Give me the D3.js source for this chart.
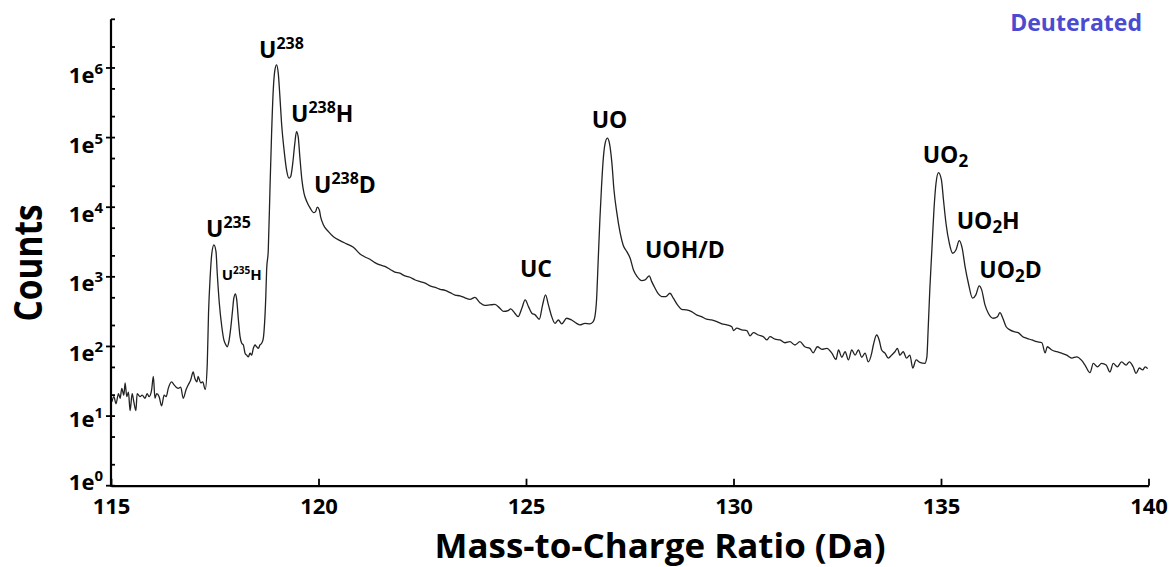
<!DOCTYPE html>
<html><head><meta charset="utf-8">
<script src="https://cdn.jsdelivr.net/npm/d3@7"></script>
<style>
body{margin:0;background:#fff}
svg{display:block}
text{font-family:"Open Sans",sans-serif;font-weight:700;fill:#000}
</style>
</head><body>
<svg id="chart" width="1170" height="567"></svg>
<script>
// ---- data ----
const massToCharge = [
115.02,115.07,115.12,115.18,115.22,115.26,115.31,115.34,115.38,115.42,115.46,115.51,115.55,115.60,115.63,115.70,115.75,115.82,115.87,115.92,115.98,
116.02,116.06,116.10,116.16,116.22,116.28,116.33,116.38,116.46,116.52,116.57,116.62,116.68,116.74,116.81,116.86,116.92,116.98,
117.02,117.07,117.10,117.16,117.21,117.27,117.32,117.35,117.39,117.43,117.48,117.53,117.56,117.61,117.67,117.72,117.77,117.80,117.84,117.88,117.93,117.96,
118.00,118.03,118.07,118.11,118.15,118.19,118.23,118.27,118.31,118.35,118.39,118.43,118.47,118.51,118.55,118.59,118.63,118.67,118.69,118.73,118.75,
118.79,118.83,118.87,118.91,118.95,118.99,119.03,119.07,119.11,119.17,119.23,119.29,119.33,119.38,119.43,119.47,119.51,119.55,119.60,119.65,119.72,119.80,119.88,119.93,119.97,
120.02,120.05,120.12,120.24,120.36,120.52,120.68,120.84,
121.00,121.12,121.24,121.36,121.48,121.60,121.72,121.84,121.96,122.08,122.20,122.33,122.45,122.57,122.69,122.81,122.93,123.05,123.17,123.29,123.41,123.53,123.65,123.77,123.89,124.01,124.13,124.25,124.37,124.46,124.57,124.63,124.73,124.81,124.90,124.98,
125.06,125.14,125.22,125.32,125.40,125.47,125.54,125.62,125.70,125.78,125.86,125.98,126.10,126.22,
126.30,126.42,126.54,126.62,126.66,126.70,126.74,126.78,126.82,126.86,126.90,126.96,127.01,127.07,127.12,127.19,127.27,127.34,127.43,127.51,127.59,127.68,127.79,127.87,127.97,
128.03,128.11,128.19,128.27,128.37,128.47,128.55,128.65,128.75,128.87,128.99,129.11,129.23,129.35,129.47,129.60,129.72,129.84,129.96,
130.00,130.08,130.20,130.32,130.40,130.48,130.60,130.72,130.80,130.88,131.00,131.12,131.24,131.36,131.48,131.60,131.72,131.84,131.92,
132.02,132.13,132.25,132.37,132.47,132.53,132.61,132.69,132.77,132.85,132.93,133.01,133.09,133.17,133.25,133.33,
133.37,133.45,133.51,133.57,133.65,133.73,133.81,133.89,133.95,134.01,134.09,134.17,134.25,134.32,134.40,134.49,134.61,134.66,134.69,134.73,134.78,134.83,134.88,134.94,
135.01,135.06,135.12,135.20,135.28,135.36,135.44,135.51,135.58,135.66,135.76,135.84,135.92,135.98,
136.06,136.14,136.26,136.36,136.42,136.49,136.57,136.66,136.76,136.86,136.97,137.07,137.19,137.31,137.43,137.51,137.56,137.67,137.79,137.91,
138.03,138.15,138.27,138.39,138.47,138.59,138.67,138.77,138.87,138.98,139.07,139.15,139.25,139.35,139.46,139.54,139.63,139.70,139.78,139.86,139.92,139.98
];
const counts = [
16,19,15,21,18,25,20,30,19,22,12,21,16,12,21,19,20,18,21,19,24,
37,18,21,19,14,20,19,25,31,28,26,25,26,18,24,28,33,43,
35,31,37,30,31,24,57,300,1007,2183,2870,2300,1127,418,192,124,105,99,117,173,334,493,
568,466,240,138,111,105,80,75,71,80,75,94,105,99,94,105,111,131,173,520,1256,
2434,17700,115700,484000,940000,1110000,842000,388000,161000,66500,34400,26100,27600,42900,83200,122000,103000,53300,24700,15900,12000,9680,8360,8650,10000,
9150,7330,5570,4460,3780,3310,2970,2660,
2133,1930,1790,1600,1483,1410,1285,1170,1127,1030,986,900,853,810,740,705,663,640,593,548,532,500,476,506,426,388,395,401,354,318,327,346,300,268,354,466,
373,300,284,246,395,550,395,268,215,240,211,254,240,215,
204,215,211,227,268,466,1750,6570,19800,47800,78500,98000,83100,42900,17700,8200,4230,2870,2300,1850,1256,1007,882,902,1030,
853,686,568,520,520,581,493,395,342,334,316,284,268,246,240,227,211,204,192,
169,183,173,169,142,158,146,138,124,138,127,124,113,117,105,117,99,94,81,
99,91,94,80,65,89,70,84,64,89,75,89,70,80,60,80,
105,146,124,89,80,68,75,84,94,75,84,68,75,49,64,59,57,71,173,649,2434,9150,22100,31400,
24700,12700,5890,3040,2183,2434,3310,2577,1402,809,493,550,740,649,
395,300,254,268,306,254,192,173,163,158,138,131,124,117,113,81,99,89,84,80,
75,68,71,63,54,42,57,51,57,54,43,57,51,60,54,60,51,41,49,46,51,48
];
const xTickValues = [115,120,125,130,135,140];
const yMajorValues = [1,10,100,1000,10000,100000,1000000];
const yMajorExponents = ["0","1","2","3","4","5","6"];
const yMinorValues = [2,5,20,50,200,500,2000,5000,20000,50000,200000,500000,2000000,5000000];
const peakLabelParts = [
  [["U","n"],["238","sup"]],
  [["U","n"],["238","sup"],["H","n"]],
  [["U","n"],["238","sup"],["D","n"]],
  [["U","n"],["235","sup"]],
  [["U","n"],["235","sup"],["H","n"]],
  [["UC","n"]],
  [["UO","n"]],
  [["UOH/D","n"]],
  [["UO","n"],["2","sub"]],
  [["UO","n"],["2","sub"],["H","n"]],
  [["UO","n"],["2","sub"],["D","n"]]
];
const peakLabelMz = [118.566,119.337,119.892,117.289,117.667,124.855,126.583,127.867,134.559,135.378,135.923];
const peakLabelCounts = [1.38e6,1.70e5,1.59e4,3780,903,1007,1.36e5,1850,4.29e4,4830,955];
const xTitle = "Mass-to-Charge Ratio (Da)";
const yTitle = "Counts";
const sampleTag = "Deuterated";

// ---- drawing ----
const svg = d3.select("#chart");
const x = d3.scaleLinear().domain([115,140]).range([111,1148.5]);
const y = d3.scaleLog().domain([1,5e6]).range([485.7,19.3]);

const series = massToCharge.map((m,i)=>({m, c:counts[i]}));
const line = d3.line().x(d=>x(d.m)).y(d=>y(d.c)).curve(d3.curveMonotoneX);
svg.append("path").datum(series).attr("d",line)
  .attr("fill","none").attr("stroke","#222").attr("stroke-width",1.3).attr("stroke-linejoin","round");

// x axis
const xAxis = d3.axisBottom(x).tickValues(xTickValues).tickSizeInner(-7).tickSizeOuter(0).tickPadding(13);
const gx = svg.append("g").attr("transform",`translate(0,${y(1)})`).call(xAxis);
gx.select(".domain").attr("stroke","#000").attr("stroke-width",2.2);
gx.selectAll(".tick line").attr("stroke","#000").attr("stroke-width",1.8);
gx.selectAll(".tick text").attr("font-size",22).attr("font-family","'Open Sans',sans-serif").attr("font-weight",700).attr("fill","#000");

// y axis
const gy = svg.append("g");
gy.append("line").attr("x1",x(115)).attr("x2",x(115)).attr("y1",y(5e6)).attr("y2",y(1)+1)
  .attr("stroke","#000").attr("stroke-width",2.2);
gy.selectAll("line.major").data(yMajorValues).join("line").attr("class","major")
  .attr("x1",x(115)-5).attr("x2",x(115)+4).attr("y1",d=>y(d)).attr("y2",d=>y(d))
  .attr("stroke","#000").attr("stroke-width",1.8);
gy.selectAll("line.minor").data(yMinorValues).join("line").attr("class","minor")
  .attr("x1",x(115)).attr("x2",x(115)+4).attr("y1",d=>y(d)).attr("y2",d=>y(d))
  .attr("stroke","#000").attr("stroke-width",1.8);
const labelShift = [4,11,15,14,15,15,15];
const yl = gy.selectAll("text.ylab").data(yMajorValues).join("text").attr("class","ylab")
  .attr("x",103).attr("y",(d,i)=>y(d)+labelShift[i]).attr("text-anchor","end").attr("font-size",22);
yl.append("tspan").text("1e");
yl.append("tspan").attr("font-size",15).attr("dy",-9).text((d,i)=>yMajorExponents[i]);

// titles
svg.append("text").attr("x",660).attr("y",558).attr("text-anchor","middle").attr("font-size",34)
  .attr("textLength",451).attr("lengthAdjust","spacingAndGlyphs").text(xTitle);
svg.append("text").attr("transform","translate(42,263) rotate(-90)").attr("text-anchor","middle").attr("font-size",40)
  .attr("textLength",117).attr("lengthAdjust","spacingAndGlyphs").text(yTitle);
svg.append("text").attr("x",1142).attr("y",31).attr("text-anchor","end").attr("font-size",23)
  .style("fill","#4b4bd2").text(sampleTag);

// peak labels
peakLabelParts.forEach((parts,i)=>{
  const small = i===4;
  const base = small?15:23, supS = small?10:16;
  const t = svg.append("text").attr("x",x(peakLabelMz[i])).attr("y",y(peakLabelCounts[i])).attr("font-size",base);
  let shift = 0;
  parts.forEach(([s,kind])=>{
    const ts = t.append("tspan").text(s);
    let target = 0, fs = base;
    if(kind==="sup"){target = small?-6:-9; fs = supS;}
    if(kind==="sub"){target = 4; fs = 17;}
    ts.attr("font-size",fs);
    if(target!==shift){ts.attr("dy",target-shift); shift = target;}
  });
});
</script>
</body></html>
